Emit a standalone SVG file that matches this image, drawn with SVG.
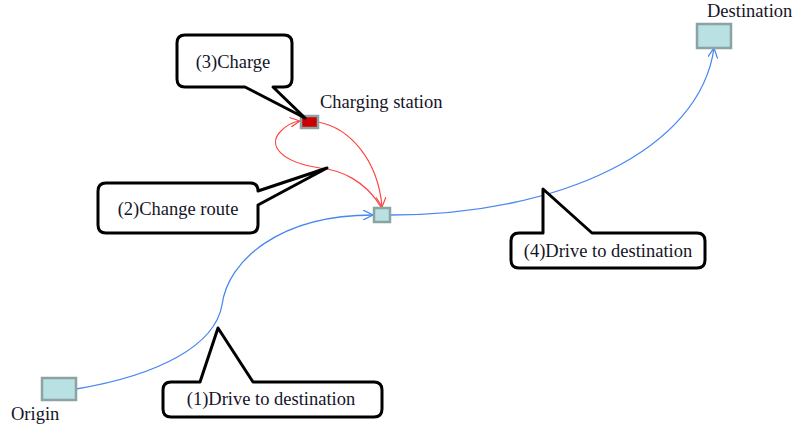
<svg xmlns="http://www.w3.org/2000/svg" width="798" height="427" viewBox="0 0 798 427">
<style>
text{font-family:"Liberation Serif","Times New Roman",serif;font-size:18.5px;fill:#141428}
.loc{fill:#b9e0e2;stroke:#8aa3a3;stroke-width:2.5}
.blue{fill:none;stroke:#4a88f0;stroke-width:1.3}
.red{fill:none;stroke:#ff4444;stroke-width:1.2}
.callout{fill:#fff;stroke:#000;stroke-width:3;stroke-linejoin:round}
</style>
<defs>
<marker id="ab" viewBox="0 0 10 10" refX="10" refY="5" markerWidth="10" markerHeight="10" markerUnits="userSpaceOnUse" orient="auto"><path d="M0,0 L10,5 L0,10" fill="none" stroke="#4a88f0" stroke-width="1.3"/></marker>
<marker id="ar" viewBox="0 0 10 10" refX="10" refY="5" markerWidth="10" markerHeight="10" markerUnits="userSpaceOnUse" orient="auto"><path d="M0,0 L10,5 L0,10" fill="none" stroke="#ff4444" stroke-width="1.2"/></marker>
</defs>
<g id="connectors">
<path class="blue" d="M76,389 C160,375 215,345 222,305 C228,260 280,215 373,215" marker-end="url(#ab)"/>
<path class="blue" d="M390,215 C560,215 700,150 714,48" marker-end="url(#ab)"/>
<path class="red" d="M318,122 C350,128 378,160 382,207" marker-end="url(#ar)"/>
<path class="red" d="M381,207 C365,180 340,170 320,168 C280,162 268,145 280,132 C287,124 293,122 300,121" marker-end="url(#ar)"/>
</g>
<g id="origin"><rect class="loc" x="42" y="378" width="34" height="22"/><text x="11" y="420">Origin</text></g>
<g id="waypoint"><rect class="loc" x="374" y="208" width="16" height="14"/></g>
<g id="charging-station"><rect x="301" y="116" width="17" height="12" fill="#cc0000" stroke="#8aa3a3" stroke-width="2.5"/><text x="320" y="108">Charging station</text></g>
<g id="destination"><rect class="loc" x="697" y="24" width="34" height="24"/><text x="707" y="17">Destination</text></g>
<g id="callout-3"><path class="callout" d="M185,35 H284 Q292,35 292,43 V79 Q292,87 284,87 H273 L305,118 L245,87 H185 Q177,87 177,79 V43 Q177,35 185,35 Z"/><text x="233" y="68" text-anchor="middle">(3)Charge</text></g>
<g id="callout-2"><path class="callout" d="M106,183 H250 Q258,183 258,191 L327,168 L258,205 V225 Q258,233 250,233 H106 Q98,233 98,225 V191 Q98,183 106,183 Z"/><text x="178" y="215" text-anchor="middle">(2)Change route</text></g>
<g id="callout-1"><path class="callout" d="M171,382 H200 L218,328 L253,382 H374 Q382,382 382,390 V409 Q382,417 374,417 H171 Q163,417 163,409 V390 Q163,382 171,382 Z"/><text x="271" y="405" text-anchor="middle">(1)Drive to destination</text></g>
<g id="callout-4"><path class="callout" d="M519,233 H543 L543,189 L592,233 H697 Q705,233 705,241 V260 Q705,268 697,268 H519 Q511,268 511,260 V241 Q511,233 519,233 Z"/><text x="608" y="257" text-anchor="middle">(4)Drive to destination</text></g>
</svg>
